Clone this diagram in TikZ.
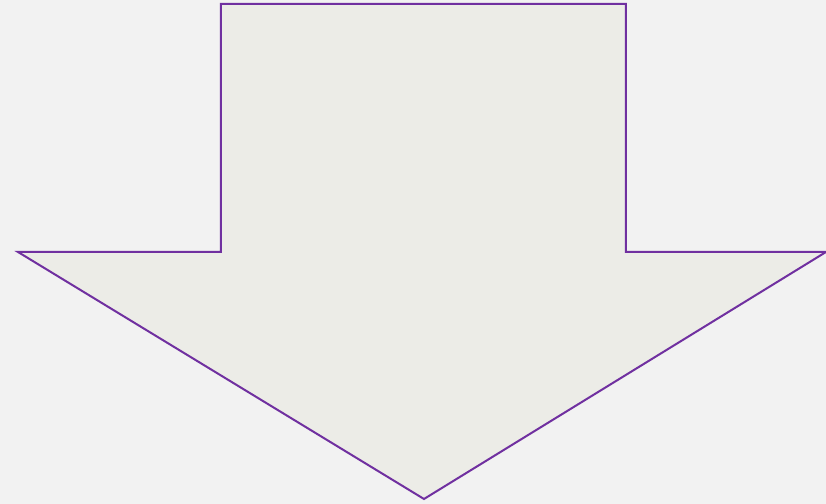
\documentclass[tikz,border=0pt]{standalone}
\usepackage{tikz}
\definecolor{bgGray}{HTML}{F2F2F2}
\definecolor{arrowFill}{HTML}{ECECE7}
\definecolor{arrowLine}{HTML}{7030A0}

\begin{document}
\begin{tikzpicture}[
  x=0.01cm, y=-0.01cm,
  bg/.style   ={fill=bgGray, draw=none},
  bigarr/.style={fill=arrowFill, draw=arrowLine, line width=0.02cm, line join=miter},
]

%% ---- Background / bounding box ----
\fill[bg] (0,0) rectangle (826,504);
\useasboundingbox (0,0) rectangle (826,504);

%% ---- Down arrow ----
\draw[bigarr]
  (221,4) -- (626,4) -- (626,252) -- (826,252)
  -- (424,499) -- (18,252) -- (221,252) -- cycle;

\end{tikzpicture}
\end{document}
